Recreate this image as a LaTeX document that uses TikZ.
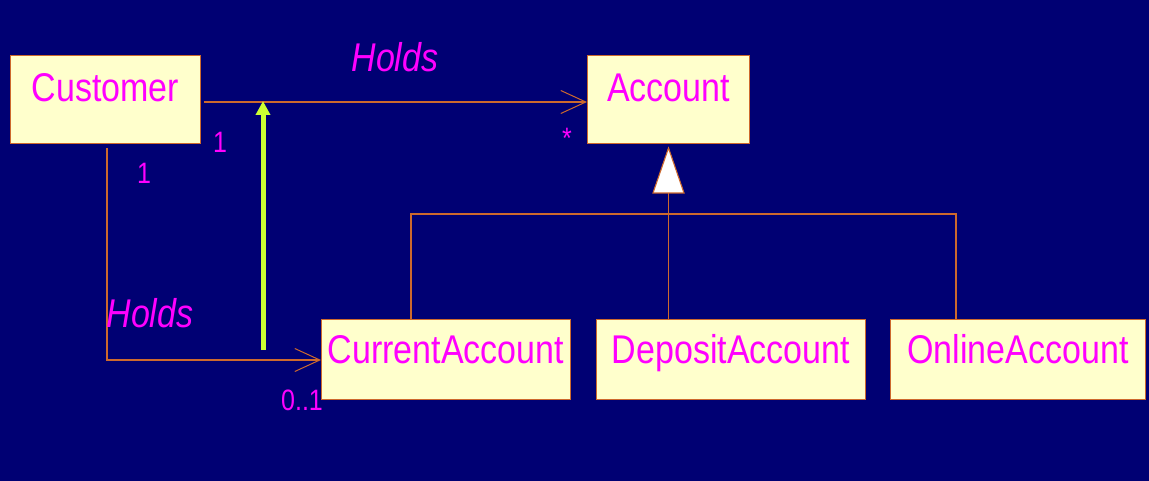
\documentclass[tikz,border=0pt]{standalone}
\usepackage{fontspec}
\usepackage{graphicx}
\setmainfont{Liberation Sans}
\usetikzlibrary{arrows.meta,calc}
\definecolor{bgnavy}{RGB}{0,0,115}
\definecolor{boxfill}{RGB}{255,255,204}
\definecolor{edgeor}{RGB}{205,105,45}
\definecolor{mag}{RGB}{255,0,255}
\definecolor{lime}{RGB}{204,255,51}
\newcommand{\talltext}[1]{\scalebox{1}[1.18]{#1}}
\tikzset{
  classbox/.style={draw=edgeor, line width=1pt, fill=boxfill, text=mag, inner sep=0pt,
    font=\fontsize{34}{34}\selectfont, anchor=north west},
  assoc/.style={draw=edgeor, line width=1.2pt, -{Straight Barb[length=25pt,width=23pt,line width=1pt]}},
  gen/.style={draw=edgeor, line width=1.1pt},
  rolename/.style={text=mag, font=\fontsize{34}{34}\selectfont\itshape, inner sep=0pt},
  mult/.style={text=mag, font=\fontsize{25}{25}\selectfont, inner sep=0pt},
  navarrow/.style={draw=lime, line width=5pt, -{Triangle[length=14pt,width=14pt]}},
}
\begin{document}
\begin{tikzpicture}[x=1pt,y=-1pt]
\fill[bgnavy] (0,0) rectangle (1149,481);
\useasboundingbox (0,0) rectangle (1149,481);
% classes
\node[classbox, minimum width=190pt, text height=46pt, text depth=42pt] (cust) at (10,55) {\talltext{Customer}};
\node[classbox, minimum width=162pt, text height=46pt, text depth=42pt] (acc) at (587,55) {\talltext{Account}};
\node[classbox, minimum width=249pt, text height=44pt, text depth=36pt] (curr) at (321,319) {\talltext{CurrentAccount}};
\node[classbox, minimum width=269pt, text height=44pt, text depth=36pt] (dep) at (596,319) {\talltext{DepositAccount}};
\node[classbox, minimum width=255pt, text height=44pt, text depth=36pt] (onl) at (890,319) {\talltext{OnlineAccount}};
% association Customer -> Account
\draw[assoc] ([xshift=3pt,yshift=-2.5pt]cust.east) -- ([yshift=-2.5pt]acc.west);
% association Customer -> CurrentAccount
\draw[assoc] ([xshift=1.5pt,yshift=-4pt]cust.south) |- ([yshift=-0.5pt]curr.west);
% generalization
\coordinate (apex) at ([yshift=-4pt]acc.south);
\coordinate (tribase) at ($(apex)+(0,45)$);
\filldraw[gen, fill=white] (apex) -- ($(tribase)+(15.5,0)$) -- ($(tribase)+(-15.5,0)$) -- cycle;
\coordinate (busL) at (411,214);
\coordinate (busR) at (956,214);
\draw[gen] (tribase) -- (tribase |- dep.north);
\draw[gen] (busL |- curr.north) -- (busL) -- (busR) -- (busR |- onl.north);
% navigation arrow
\coordinate (navS) at (263,350);
\coordinate (navE) at (263,101);
\draw[navarrow] (navS) -- (navE);
% labels
\node[rolename] (h1) at (395,57) {\talltext{Holds}};
\node[rolename] (h2) at (150,313) {\talltext{Holds}};
\node[mult] (m1) at (220,142) {\talltext{1}};
\node[mult] (m2) at (144,173) {\talltext{1}};
\node[mult] (m3) at (567,138) {\talltext{*}};
\node[mult] (m4) at (302,400) {\talltext{0..1}};
\end{tikzpicture}
\end{document}
